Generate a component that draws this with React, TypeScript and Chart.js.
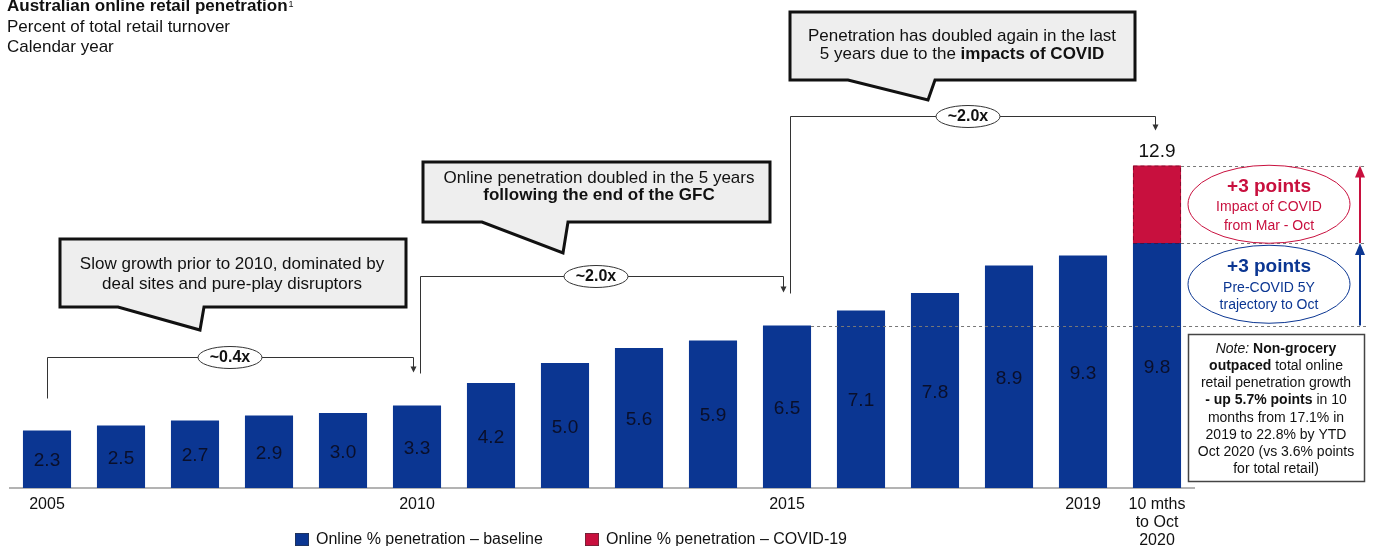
import React, { useEffect, useRef } from 'react';
import { Chart, registerables } from 'chart.js';

Chart.register(...registerables);

const categories = ['2005', '2006', '2007', '2008', '2009', '2010', '2011', '2012', '2013', '2014', '2015', '2016', '2017', '2018', '2019', '10 mths to Oct 2020'];
const tickLabels: (string | string[])[] = ['2005', '', '', '', '', '2010', '', '', '', '', '2015', '', '', '', '2019', ['10 mths', 'to Oct', '2020']];
const baselineValues = [2.3, 2.5, 2.7, 2.9, 3.0, 3.3, 4.2, 5.0, 5.6, 5.9, 6.5, 7.1, 7.8, 8.9, 9.3, 9.8];
const covidValues: (number | null)[] = [null, null, null, null, null, null, null, null, null, null, null, null, null, null, null, 3.1];
const totalLabel = '12.9';
const growthMultiples = ['~0.4x', '~2.0x', '~2.0x'];
const legendLabels = ['Online % penetration \u2013 baseline', 'Online % penetration \u2013 COVID-19'];

const NAVY = '#0b3692';
const RED = '#c8103e';
const FONT = '"Liberation Sans", Arial, Helvetica, sans-serif';
const CANVAS_H = 558;

type Seg = { t: string; s?: string };

function drawRich(ctx: CanvasRenderingContext2D, segs: Seg[], cx: number, y: number, size: number, color: string) {
  const fontFor = (s?: string) => `${s === 'bold' ? 'bold ' : s === 'italic' ? 'italic ' : ''}${size}px ${FONT}`;
  let total = 0;
  segs.forEach((sg) => { ctx.font = fontFor(sg.s); total += ctx.measureText(sg.t).width; });
  let x = cx - total / 2;
  ctx.textAlign = 'left';
  ctx.textBaseline = 'middle';
  ctx.fillStyle = color;
  segs.forEach((sg) => {
    ctx.font = fontFor(sg.s);
    ctx.fillText(sg.t, x, y);
    x += ctx.measureText(sg.t).width;
  });
}

function bubble(ctx: CanvasRenderingContext2D, l: number, t: number, r: number, b: number, tl: number, tr: number, tipX: number, tipY: number) {
  ctx.save();
  ctx.beginPath();
  ctx.moveTo(l, t);
  ctx.lineTo(r, t);
  ctx.lineTo(r, b);
  ctx.lineTo(tr, b);
  ctx.lineTo(tipX, tipY);
  ctx.lineTo(tl, b);
  ctx.lineTo(l, b);
  ctx.closePath();
  ctx.fillStyle = '#eeeeee';
  ctx.fill();
  ctx.lineWidth = 3;
  ctx.lineJoin = 'miter';
  ctx.strokeStyle = '#111';
  ctx.stroke();
  ctx.restore();
}

function arrowHead(ctx: CanvasRenderingContext2D, x: number, tipY: number, w: number, h: number, dir: number, color: string) {
  ctx.beginPath();
  ctx.moveTo(x, tipY);
  ctx.lineTo(x - w / 2, tipY - dir * h);
  ctx.lineTo(x + w / 2, tipY - dir * h);
  ctx.closePath();
  ctx.fillStyle = color;
  ctx.fill();
}

function bracket(ctx: CanvasRenderingContext2D, xL: number, yH: number, yLeftEnd: number, xR: number, yTip: number, labelX: number, label: string) {
  ctx.save();
  ctx.strokeStyle = '#333';
  ctx.lineWidth = 1;
  ctx.beginPath();
  ctx.moveTo(xL + 0.5, yLeftEnd);
  ctx.lineTo(xL + 0.5, yH + 0.5);
  ctx.lineTo(xR + 0.5, yH + 0.5);
  ctx.lineTo(xR + 0.5, yTip - 5);
  ctx.stroke();
  arrowHead(ctx, xR + 0.5, yTip, 6, 6, 1, '#333');
  ctx.beginPath();
  ctx.ellipse(labelX, yH + 0.5, 32, 11, 0, 0, Math.PI * 2);
  ctx.fillStyle = '#fff';
  ctx.fill();
  ctx.stroke();
  ctx.fillStyle = '#111';
  ctx.font = `bold 16px ${FONT}`;
  ctx.textAlign = 'center';
  ctx.textBaseline = 'middle';
  ctx.fillText(label, labelX, yH + 1);
  ctx.restore();
}

const annotationPlugin = {
  id: 'annotations',
  afterDatasetsDraw(chart: any) {
    const ctx: CanvasRenderingContext2D = chart.ctx;
    const xs = chart.scales.x;
    const ys = chart.scales.y;
    const xPix = (i: number) => xs.getPixelForValue(i);
    const yPix = (v: number) => ys.getPixelForValue(v);
    const meta0 = chart.getDatasetMeta(0);
    const meta1 = chart.getDatasetMeta(1);
    ctx.save();

    // bar value labels
    meta0.data.forEach((bar: any, i: number) => {
      const p = bar.getProps(['x', 'y', 'base'], true);
      ctx.font = `19px ${FONT}`;
      ctx.fillStyle = '#0a0f2a';
      ctx.textAlign = 'center';
      ctx.textBaseline = 'middle';
      ctx.fillText(baselineValues[i].toFixed(1), p.x, (p.y + p.base) / 2 + 2);
    });

    // covid bar dashed border + total label
    const last = covidValues.length - 1;
    const cb = meta1.data[last].getProps(['x', 'y', 'base', 'width'], true);
    ctx.save();
    ctx.setLineDash([4, 3]);
    ctx.strokeStyle = 'rgba(90,0,25,0.55)';
    ctx.lineWidth = 1;
    ctx.strokeRect(cb.x - cb.width / 2 + 0.5, cb.y + 0.5, cb.width - 1, cb.base - cb.y);
    ctx.restore();
    ctx.font = `19px ${FONT}`;
    ctx.fillStyle = '#111';
    ctx.textAlign = 'center';
    ctx.textBaseline = 'middle';
    ctx.fillText(totalLabel, cb.x, cb.y - 14);

    const total = baselineValues[last] + (covidValues[last] as number);
    const yTotal = yPix(total);
    const yBase = yPix(baselineValues[last]);
    const y2015 = yPix(baselineValues[10]);
    const b10 = meta0.data[10].getProps(['x', 'width'], true);

    // dashed reference lines
    ctx.save();
    ctx.setLineDash([3, 3]);
    ctx.strokeStyle = '#777';
    ctx.lineWidth = 1;
    ctx.beginPath();
    ctx.moveTo(cb.x + cb.width / 2, Math.round(yTotal) + 0.5);
    ctx.lineTo(1366, Math.round(yTotal) + 0.5);
    ctx.moveTo(cb.x + cb.width / 2, Math.round(yBase) + 0.5);
    ctx.lineTo(1366, Math.round(yBase) + 0.5);
    ctx.moveTo(b10.x + b10.width / 2, Math.round(y2015) + 0.5);
    ctx.lineTo(1366, Math.round(y2015) + 0.5);
    ctx.stroke();
    ctx.restore();

    // vertical arrows on the right
    const ax = 1360;
    ctx.lineWidth = 2;
    ctx.strokeStyle = RED;
    ctx.beginPath();
    ctx.moveTo(ax, yBase);
    ctx.lineTo(ax, yTotal + 10);
    ctx.stroke();
    arrowHead(ctx, ax, yTotal, 10, 12, -1, RED);
    ctx.strokeStyle = NAVY;
    ctx.beginPath();
    ctx.moveTo(ax, y2015);
    ctx.lineTo(ax, yBase + 10);
    ctx.stroke();
    arrowHead(ctx, ax, yBase, 10, 12, -1, NAVY);

    // ellipses
    const ecx = 1269;
    const redCy = (yTotal + yBase) / 2;
    const blueCy = (yBase + y2015) / 2;
    ctx.lineWidth = 1;
    ctx.beginPath();
    ctx.ellipse(ecx, redCy, 81, 39, 0, 0, Math.PI * 2);
    ctx.fillStyle = '#fff';
    ctx.fill();
    ctx.strokeStyle = RED;
    ctx.stroke();
    drawRich(ctx, [{ t: '+3 points', s: 'bold' }], ecx, redCy - 17, 19, RED);
    drawRich(ctx, [{ t: 'Impact of COVID' }], ecx, redCy + 3, 14, RED);
    drawRich(ctx, [{ t: 'from Mar - Oct' }], ecx, redCy + 22, 14, RED);
    ctx.beginPath();
    ctx.ellipse(ecx, blueCy, 81, 39, 0, 0, Math.PI * 2);
    ctx.fillStyle = '#fff';
    ctx.fill();
    ctx.strokeStyle = NAVY;
    ctx.stroke();
    drawRich(ctx, [{ t: '+3 points', s: 'bold' }], ecx, blueCy - 17, 19, NAVY);
    drawRich(ctx, [{ t: 'Pre-COVID 5Y' }], ecx, blueCy + 4, 14, NAVY);
    drawRich(ctx, [{ t: 'trajectory to Oct' }], ecx, blueCy + 21, 14, NAVY);

    // note box
    ctx.fillStyle = '#fff';
    ctx.fillRect(1188, 334, 177, 148);
    ctx.strokeStyle = '#444';
    ctx.lineWidth = 1.5;
    ctx.strokeRect(1188.5, 334.5, 176, 147);
    const noteLines: Seg[][] = [
      [{ t: 'Note: ', s: 'italic' }, { t: 'Non-grocery', s: 'bold' }],
      [{ t: 'outpaced', s: 'bold' }, { t: ' total online' }],
      [{ t: 'retail penetration growth' }],
      [{ t: '- up 5.7% points', s: 'bold' }, { t: ' in 10' }],
      [{ t: 'months from 17.1% in' }],
      [{ t: '2019 to 22.8% by YTD' }],
      [{ t: 'Oct 2020 (vs 3.6% points' }],
      [{ t: 'for total retail)' }],
    ];
    noteLines.forEach((ln, i) => drawRich(ctx, ln, 1276, 349 + i * 17.2, 14, '#111'));

    // brackets
    bracket(ctx, xPix(0), 357, yPix(baselineValues[0]) - 32, xPix(5) - 4, yPix(baselineValues[5]) - 33, 230, growthMultiples[0]);
    bracket(ctx, xPix(5) + 3, 276, yPix(baselineValues[5]) - 32, xPix(10) - 4, yPix(baselineValues[10]) - 33, 596, growthMultiples[1]);
    bracket(ctx, xPix(10) + 3, 116, yPix(baselineValues[10]) - 32, xPix(15) - 2, yTotal - 35, 968, growthMultiples[2]);

    // callouts
    bubble(ctx, 60, 239, 406, 307, 118, 204, 200, 330);
    drawRich(ctx, [{ t: 'Slow growth prior to 2010, dominated by' }], 232, 264, 17, '#111');
    drawRich(ctx, [{ t: 'deal sites and pure-play disruptors' }], 232, 284, 17, '#111');

    bubble(ctx, 423, 162, 770, 222, 482, 568, 563, 253);
    drawRich(ctx, [{ t: 'Online penetration doubled in the 5 years' }], 599, 178, 17, '#111');
    drawRich(ctx, [{ t: 'following the end of the GFC', s: 'bold' }], 599, 195, 17, '#111');

    bubble(ctx, 790, 12, 1135, 80, 848, 935, 928, 100);
    drawRich(ctx, [{ t: 'Penetration has doubled again in the last' }], 962, 36, 17, '#111');
    drawRich(ctx, [{ t: '5 years due to the ' }, { t: 'impacts of COVID', s: 'bold' }], 962, 54, 17, '#111');

    // title
    ctx.textAlign = 'left';
    ctx.textBaseline = 'alphabetic';
    ctx.fillStyle = '#111';
    ctx.font = `bold 17px ${FONT}`;
    const title = 'Australian online retail penetration';
    ctx.fillText(title, 7, 11);
    const tw = ctx.measureText(title).width;
    ctx.font = `9px ${FONT}`;
    ctx.fillText('1', 7 + tw + 1, 7);
    ctx.font = `17px ${FONT}`;
    ctx.fillText('Percent of total retail turnover', 7, 32);
    ctx.fillText('Calendar year', 7, 52);

    // legend
    const legendColors = [NAVY, RED];
    const legendX = [295, 585];
    legendLabels.forEach((lab, i) => {
      ctx.fillStyle = legendColors[i];
      ctx.fillRect(legendX[i], 533, 14, 13);
      ctx.strokeStyle = '#333';
      ctx.lineWidth = 0.5;
      ctx.strokeRect(legendX[i] + 0.25, 533.25, 13.5, 12.5);
      ctx.fillStyle = '#111';
      ctx.font = `16px ${FONT}`;
      ctx.textAlign = 'left';
      ctx.textBaseline = 'middle';
      ctx.fillText(lab, legendX[i] + 21, 540);
    });

    ctx.restore();
  },
};

export default function App() {
  const canvasRef = useRef<HTMLCanvasElement | null>(null);

  useEffect(() => {
    document.body.style.margin = '0';
    const canvas = canvasRef.current;
    if (!canvas) return;
    const chart = new Chart(canvas, {
      type: 'bar',
      data: {
        labels: categories,
        datasets: [
          {
            label: legendLabels[0],
            data: baselineValues,
            backgroundColor: NAVY,
            borderWidth: 0,
            categoryPercentage: 1,
            barPercentage: 0.65,
          },
          {
            label: legendLabels[1],
            data: covidValues as any,
            backgroundColor: RED,
            borderWidth: 0,
            categoryPercentage: 1,
            barPercentage: 0.65,
          },
        ],
      },
      options: {
        responsive: false,
        animation: false,
        devicePixelRatio: 1,
        layout: { padding: { left: 10, right: 179, top: 88, bottom: 0 } },
        plugins: {
          legend: { display: false },
          tooltip: { enabled: false },
          title: { display: false },
        },
        scales: {
          x: {
            stacked: true,
            grid: { display: false, drawTicks: false },
            border: { display: true, color: '#b3b3b3', width: 2 },
            ticks: {
              autoSkip: false,
              maxRotation: 0,
              minRotation: 0,
              padding: 8,
              color: '#111',
              font: { family: FONT, size: 16, lineHeight: 1.125 },
              callback: (_v: any, i: number) => tickLabels[i],
            },
          },
          y: {
            stacked: true,
            display: false,
            min: 0,
            max: 16,
          },
        },
      },
      plugins: [annotationPlugin],
    });
    return () => chart.destroy();
  }, []);

  return (
    <div style={{ position: 'fixed', left: 0, top: 0, width: 1373, height: CANVAS_H, background: '#fff' }}>
      <canvas ref={canvasRef} width={1373} height={CANVAS_H} style={{ display: 'block' }} />
    </div>
  );
}
